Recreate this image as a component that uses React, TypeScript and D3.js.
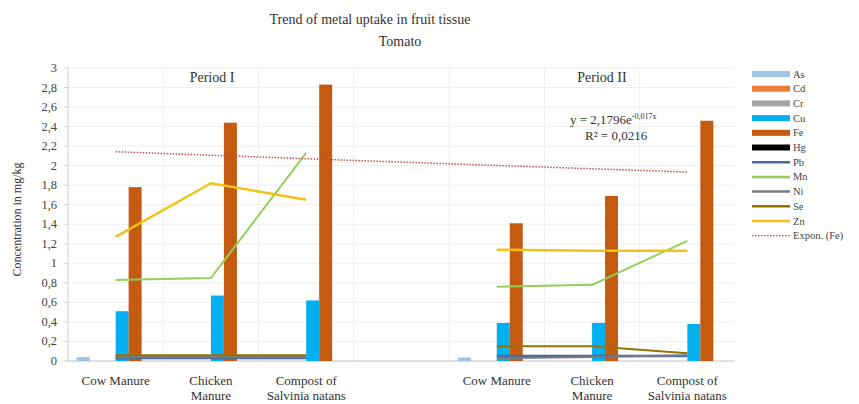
import React from "react";
import * as d3 from "d3";

const categories = ["Cow Manure", "Chicken Manure", "Compost of Salvinia natans", "", "Cow Manure", "Chicken Manure", "Compost of Salvinia natans"];
const categoryLines = [["Cow Manure"], ["Chicken", "Manure"], ["Compost of", "Salvinia natans"], [], ["Cow Manure"], ["Chicken", "Manure"], ["Compost of", "Salvinia natans"]];

const barSeries = ["As", "Cd", "Cr", "Cu", "Fe", "Hg"];
const lineSeries = ["Pb", "Mn", "Ni", "Se", "Zn"];

const As = [0.04, 0, 0, null, 0.035, 0, 0];
const Cd = [0, 0, 0, null, 0, 0, 0];
const Cr = [0, 0, 0, null, 0, 0, 0];
const Cu = [0.51, 0.67, 0.62, null, 0.39, 0.39, 0.38];
const Fe = [1.78, 2.44, 2.83, null, 1.41, 1.69, 2.46];
const Hg = [0, 0, 0, null, 0, 0, 0];
const Pb = [0.03, 0.03, 0.03, null, 0.05, 0.05, 0.05];
const Mn = [0.83, 0.85, 2.13, null, 0.76, 0.78, 1.23];
const Ni = [0.04, 0.04, 0.04, null, 0.03, 0.04, 0.06];
const Se = [0.06, 0.06, 0.06, null, 0.15, 0.15, 0.08];
const Zn = [1.27, 1.82, 1.65, null, 1.14, 1.13, 1.13];

const yTicks = [0, 0.2, 0.4, 0.6, 0.8, 1, 1.2, 1.4, 1.6, 1.8, 2, 2.2, 2.4, 2.6, 2.8, 3];
const trendA = 2.1796;
const trendB = -0.017;

const seriesValues: Record<string, (number | null)[]> = { As, Cd, Cr, Cu, Fe, Hg, Pb, Mn, Ni, Se, Zn };
const colors: Record<string, string> = {
  As: "#9DC3E6", Cd: "#ED7D31", Cr: "#A5A5A5", Cu: "#00B0F0", Fe: "#C55A11", Hg: "#000000",
  Pb: "#4A6A9A", Mn: "#92CF5C", Ni: "#767A8A", Se: "#997300", Zn: "#F2C314",
};
const lineWidths: Record<string, number> = { Pb: 2.5, Mn: 2, Ni: 2, Se: 2, Zn: 2.5 };

const FONT = '"Liberation Serif", serif';

export default function App() {
  const W = 859, H = 404;
  const left = 68, right = 735, top = 68, bottom = 361;
  const x = d3.scaleBand<number>().domain(d3.range(categories.length)).range([left, right]).paddingInner(0).paddingOuter(0);
  const xi = d3.scaleBand<string>().domain(barSeries).range([0, x.bandwidth()]).paddingInner(0).paddingOuter(0.67);
  const y = d3.scaleLinear().domain([0, 3]).range([bottom, top]);
  const cx = (i: number) => (x(i) as number) + x.bandwidth() / 2;

  const lineGen = d3.line<number | null>()
    .defined((d) => d !== null)
    .x((_, i) => cx(i))
    .y((d) => y(d as number));

  const trendPts = d3.range(categories.length).map((i) => [cx(i), y(trendA * Math.exp(trendB * (i + 1)))] as [number, number]);
  const trendPath = d3.line()(trendPts) as string;

  const legendItems = [...barSeries, ...lineSeries, "Expon. (Fe)"];
  const ts = { fontFamily: FONT };

  return (
    <svg width={W} height={H} style={{ position: "absolute", left: 0, top: 0, background: "#fff" }}>
      <rect width={W} height={H} fill="#fff" />
      <text style={ts} x={370} y={24} textAnchor="middle" fontSize={14} fill="#333">Trend of metal uptake in fruit tissue</text>
      <text style={ts} x={400} y={46} textAnchor="middle" fontSize={14} fill="#333">Tomato</text>

      {/* gridlines */}
      {yTicks.map((t) => (
        <line key={"g" + t} x1={left} x2={right} y1={y(t)} y2={y(t)} stroke="#EEEEEE" strokeWidth={1} />
      ))}
      {d3.range(1, categories.length).map((i) => (
        <line key={"v" + i} x1={x(i) as number} x2={x(i) as number} y1={top} y2={bottom} stroke="#EEEEEE" strokeWidth={1} />
      ))}

      {/* axis */}
      <line x1={left} x2={left} y1={top} y2={bottom} stroke="#D0D0D0" />
      <line x1={left} x2={right} y1={bottom} y2={bottom} stroke="#C8C8C8" />
      {yTicks.map((t) => (
        <g key={"t" + t}>
          <line x1={left - 4} x2={left} y1={y(t)} y2={y(t)} stroke="#D0D0D0" />
          <text style={ts} x={57} y={y(t) + 4} textAnchor="end" fontSize={12.5} fill="#444">{String(t).replace(".", ",")}</text>
        </g>
      ))}
      <text style={ts} transform={`translate(21,${(top + bottom) / 2 + 5}) rotate(-90)`} textAnchor="middle" fontSize={12} fill="#333">Concentration in mg/kg</text>

      {/* bars */}
      {barSeries.map((s) => (
        <g key={s}>
          {seriesValues[s].map((v, i) => v === null || v <= 0 ? null : (
            <rect key={i} x={(x(i) as number) + (xi(s) as number)} width={xi.bandwidth()} y={y(v)} height={y(0) - y(v)} fill={colors[s]} />
          ))}
        </g>
      ))}

      {/* lines */}
      {lineSeries.map((s) => (
        <path key={s} d={lineGen(seriesValues[s]) as string} fill="none" stroke={colors[s]} strokeWidth={lineWidths[s]} strokeLinejoin="round" />
      ))}

      {/* trendline */}
      <path d={trendPath} fill="none" stroke="#C0504D" strokeWidth={1.5} strokeDasharray="1.5,1.5" />

      {/* period labels */}
      <text style={ts} x={212} y={82} textAnchor="middle" fontSize={14} fill="#333">Period  I</text>
      <text style={ts} x={602} y={82} textAnchor="middle" fontSize={14} fill="#333">Period II</text>

      {/* equation */}
      <text style={ts} x={570} y={124} fontSize={13} fill="#333">y = 2,1796e<tspan dy={-5} fontSize={8}>-0,017x</tspan></text>
      <text style={ts} x={585} y={140} fontSize={13} fill="#333">R² = 0,0216</text>

      {/* category labels */}
      {categoryLines.map((lines, i) => (
        <text style={ts} key={"c" + i} x={cx(i)} y={385} textAnchor="middle" fontSize={13} fill="#333">
          {lines.map((l, j) => (
            <tspan key={j} x={cx(i)} dy={j === 0 ? 0 : 15}>{l}</tspan>
          ))}
        </text>
      ))}

      {/* legend */}
      {legendItems.map((s, k) => {
        const ly = 74 + k * 14.7;
        const isBar = barSeries.includes(s);
        const isTrend = s.startsWith("Expon");
        return (
          <g key={"l" + s}>
            {isBar ? (
              <rect x={752} y={ly - 3} width={38} height={6} fill={colors[s]} />
            ) : isTrend ? (
              <line x1={752} x2={790} y1={ly} y2={ly} stroke="#C0504D" strokeWidth={1.3} strokeDasharray="1.5,1.5" />
            ) : (
              <line x1={752} x2={790} y1={ly} y2={ly} stroke={colors[s]} strokeWidth={2.5} />
            )}
            <text style={ts} x={793} y={ly + 3.5} fontSize={10.5} fill="#444">{s}</text>
          </g>
        );
      })}
    </svg>
  );
}
